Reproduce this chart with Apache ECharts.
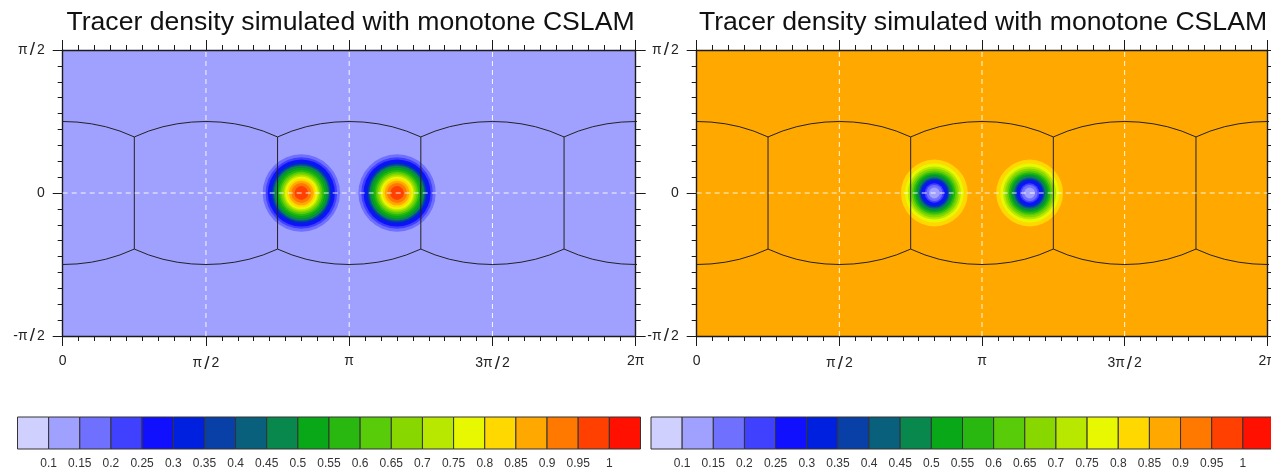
<!DOCTYPE html>
<html>
<head>
<meta charset="utf-8">
<script src="https://cdn.jsdelivr.net/npm/echarts@6/dist/echarts.min.js"></script>
<style>html,body{margin:0;padding:0;background:#fff;overflow:hidden}#c{width:1271px;height:472px}</style>
</head>
<body>
<div id="c"></div>
<script>
// ---- values (x and y in units of pi) ----
const titleText = 'Tracer density simulated with monotone CSLAM';
const xTickLabels = ['0', 'π/2', 'π', '3π/2', '2π'];
const yTickLabels = ['-π/2', '0', 'π/2'];
const barEdges = [0.05,0.1,0.15,0.2,0.25,0.3,0.35,0.4,0.45,0.5,0.55,0.6,0.65,0.7,0.75,0.8,0.85,0.9,0.95,1,1.05];
const barColors = ['#D0D0FF','#A0A0FF','#7070FF','#4040FF','#1010FF','#0020E0','#0840A8','#08607C','#08884C','#08A818',
                   '#28B810','#58CC08','#88D800','#B8E800','#E8F800','#FFD800','#FFA800','#FF7800','#FF4000','#FF1000'];
const bellCentersX = [0.833, 1.167];
const bellCenterY = 0;
const leftBackgroundBand = 1;
const leftRingRadii = [.135,.125,.117,.110,.102,.098,.095,.088,.080,.074,.068,.062,.057,.050,.043,.035,.024];
const leftRingBands = [2,3,4,5,6,7,8,9,10,11,12,13,14,15,16,17,18];
const rightBackgroundBand = 16;
const rightRingRadii = [.117,.103,.093,.086,.079,.073,.067,.062,.054,.0505,.047,.040,.034,.028,.019];
const rightRingBands = [15,14,13,12,11,10,9,8,7,6,5,4,3,2,1];
const panelCenters = [0, 0.5, 1, 1.5, 2];
const panelEdgeOffsets = [-.25,-.2,-.15,-.1,-.05,0,.05,.1,.15,.2,.25];
const panelEdgeLats = [.196,.2165,.2317,.242,.248,.25,.248,.242,.2317,.2165,.196];
const panelCornerLons = [.25, .75, 1.25, 1.75];
const panelCornerLat = .196;
const gridLons = [.5, 1, 1.5];
const gridLat = 0;

// ---- chart ----
const INK = '#1a1a1a';
const tick = (major) => ({show:true, inside:false, length:major, lineStyle:{color:INK, width:1}});
const minor = {show:true, splitNumber:9, length:5, lineStyle:{color:INK, width:1}};
const line = {show:true, onZero:false, lineStyle:{color:INK, width:1.4}};
const piRich = {a:{fontFamily:'Liberation Sans', fontSize:14, color:'#222'},
                s:{fontFamily:'Liberation Sans', fontSize:19, color:'#222', padding:[0,2,0,2]}};
const fmt = (s) => s.includes('/') ? s.split('/').map(p => p ? '{a|'+p+'}' : '').join('{s|/}') : '{a|'+s+'}';

function plotAxes(g) {
  const x = (pos, labels) => ({type:'value', gridIndex:g, position:pos, min:0, max:2, interval:.5,
    axisLine:line, axisTick:tick(10), minorTick:minor, splitLine:{show:false},
    axisLabel: labels ? {show:true, margin:18, rich:piRich, verticalAlign:'top', formatter:(v,i)=>fmt(xTickLabels[i])} : {show:false}});
  const y = (pos, labels) => ({type:'value', gridIndex:g, position:pos, min:-.5, max:.5, interval:.5,
    axisLine:line, axisTick:tick(10), minorTick:minor, splitLine:{show:false},
    axisLabel: labels ? {show:true, margin:18, rich:piRich, formatter:(v,i)=>fmt(yTickLabels[i])} : {show:false}});
  return {x:[x('bottom',true), x('top',false)], y:[y('left',true), y('right',false)]};
}
function barAxes(g) {
  return {
    x:{type:'value', gridIndex:g, min:0.05, max:1.05, interval:0.05,
       axisLine:{show:false}, axisTick:{show:false}, splitLine:{show:false},
       axisLabel:{show:true, margin:9, fontFamily:'Liberation Sans', fontSize:12, color:'#333', hideOverlap:false, showMinLabel:true, showMaxLabel:true,
         formatter:(v)=>{const r=Math.round(v*100)/100; return (r<0.1||r>1)?'':String(r);}}},
    y:{type:'value', gridIndex:g, min:0, max:1, show:false}
  };
}
function ringSeries(xi, yi, radii, bands) {
  const data = [];
  bellCentersX.forEach(cx => radii.forEach((r,i) => data.push([cx, bellCenterY, r, bands[i]])));
  return {type:'custom', xAxisIndex:xi, yAxisIndex:yi, z:3, silent:true, animation:false, clip:true,
    encode:{x:0, y:1}, data,
    renderItem:(p, api) => {
      const c = api.coord([api.value(0), api.value(1)]);
      const rad = api.size([api.value(2), 0])[0];
      return {type:'circle', shape:{cx:c[0], cy:c[1], r:rad}, style:{fill:barColors[api.value(3)]}};
    }};
}
function edgeSeries(xi, yi) {
  const data = [];
  [1,-1].forEach(sign => panelCenters.forEach(c => {
    panelEdgeOffsets.forEach((o,i) => data.push([c+o, sign*panelEdgeLats[i]]));
    data.push([null,null]);
  }));
  panelCornerLons.forEach(x => { data.push([x, panelCornerLat],[x,-panelCornerLat],[null,null]); });
  return {type:'line', xAxisIndex:xi, yAxisIndex:yi, z:4, silent:true, animation:false, showSymbol:false, symbol:'none',
    clip:true, connectNulls:false, lineStyle:{color:'#222', width:1}, data};
}
function dashSeries(xi, yi) {
  const data = [];
  gridLons.forEach(x => data.push([x,-.5],[x,.5],[null,null]));
  data.push([0,gridLat],[2,gridLat]);
  return {type:'line', xAxisIndex:xi, yAxisIndex:yi, z:5, silent:true, animation:false, showSymbol:false, symbol:'none',
    connectNulls:false, lineStyle:{color:'#fff', width:1, type:[5,4], opacity:.9}, data};
}
function barSeries(xi, yi) {
  const data = barColors.map((c,i) => [barEdges[i], barEdges[i+1], i]);
  return {type:'custom', xAxisIndex:xi, yAxisIndex:yi, silent:true, animation:false, clip:false,
    encode:{x:[0,1]}, data,
    renderItem:(p, api) => {
      const a = api.coord([api.value(0), 1]);
      const b = api.coord([api.value(1), 0]);
      return {type:'rect', shape:{x:a[0], y:a[1], width:b[0]-a[0], height:b[1]-a[1]},
        style:{fill:barColors[api.value(2)], stroke:'#333', lineWidth:1}};
    }};
}

const pL = plotAxes(0), pR = plotAxes(1), bL = barAxes(2), bR = barAxes(3);
const titleBase = {text:titleText, top:4, textAlign:'center',
  textStyle:{fontFamily:'Liberation Sans', fontSize:26.6, fontWeight:'normal', color:'#111'}};
const option = {
  backgroundColor:'#fff',
  animation:false,
  title:[Object.assign({left:345.5}, titleBase), Object.assign({left:978}, titleBase)],
  grid:[
    {left:62.7, top:50, width:573, height:286, show:true, borderWidth:0, outerBoundsMode:'none', backgroundColor:barColors[leftBackgroundBand]},
    {left:696.7, top:50, width:570.6, height:286, show:true, borderWidth:0, outerBoundsMode:'none', backgroundColor:barColors[rightBackgroundBand]},
    {left:17.5, top:417, width:623, height:32, outerBoundsMode:'none'},
    {left:651, top:417, width:623, height:32, outerBoundsMode:'none'}
  ],
  xAxis:[...pL.x, ...pR.x, bL.x, bR.x],
  yAxis:[...pL.y, ...pR.y, bL.y, bR.y],
  series:[
    ringSeries(0,0,leftRingRadii,leftRingBands), edgeSeries(0,0), dashSeries(0,0),
    ringSeries(2,2,rightRingRadii,rightRingBands), edgeSeries(2,2), dashSeries(2,2),
    barSeries(4,4), barSeries(5,5)
  ]
};
const chart = echarts.init(document.getElementById('c'), null, {renderer:'canvas'});
chart.setOption(option);
</script>
</body>
</html>
